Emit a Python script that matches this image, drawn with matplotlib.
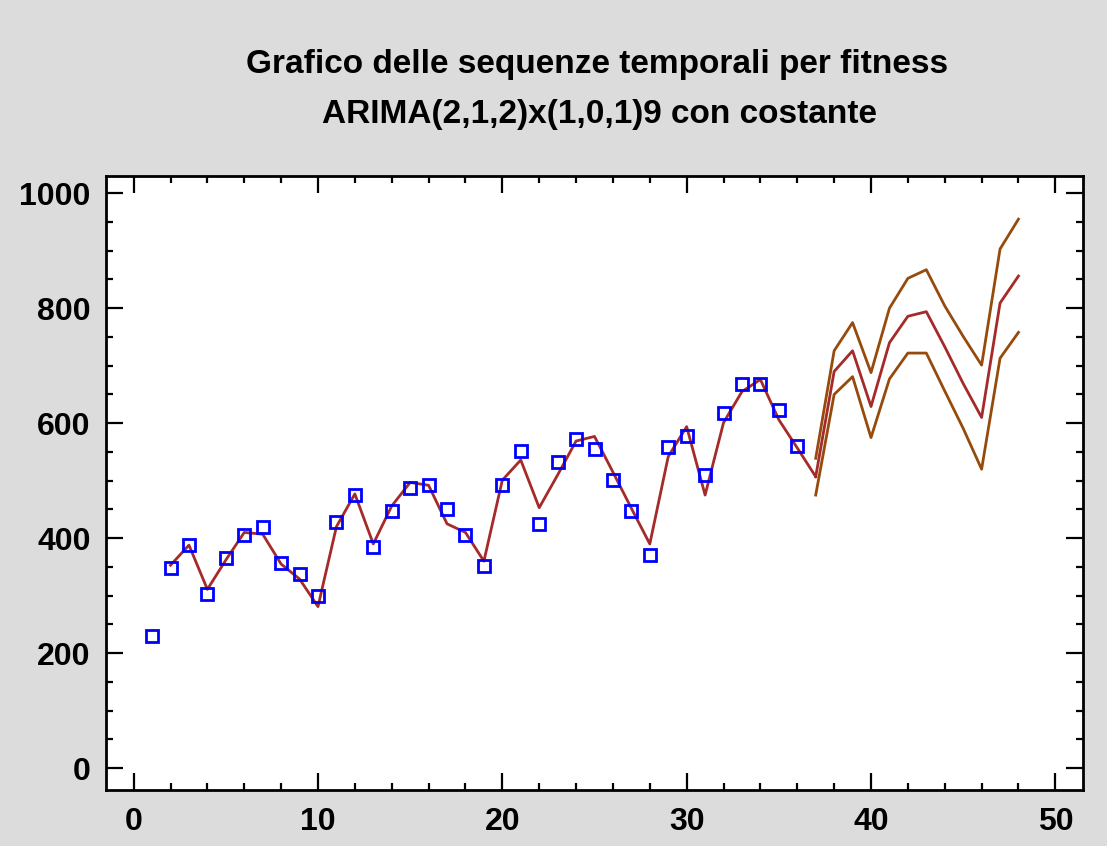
import matplotlib
matplotlib.use("Agg")
import matplotlib.pyplot as plt
from matplotlib.ticker import MultipleLocator

plt.rcParams['font.family'] = ['Liberation Sans', 'DejaVu Sans']

# observed data (t = 1..36)
obs_t = list(range(1, 37))
obs_y = [230, 348, 388, 303, 366, 406, 420, 357, 338, 299, 428, 475, 384, 447, 487, 492,
         451, 406, 352, 492, 551, 425, 533, 573, 555, 501, 447, 370, 559, 578, 510, 618,
         668, 668, 623, 561]

# fitted values (t = 2..37)
fit_t = list(range(2, 38))
fit_y = [353, 388, 311, 362, 410, 407, 355, 329, 281, 420, 477, 390, 456, 497, 492, 425,
         410, 360, 501, 536, 453, 510, 569, 577, 515, 452, 390, 542, 594, 475, 601, 655,
         676, 606, 557, 507]

# forecasts (t = 37..48)
fc_t = list(range(37, 49))
fc_y = [507, 690, 726, 629, 740, 786, 794, 733, 669, 610, 809, 856]
up_y = [539, 726, 775, 688, 800, 852, 867, 804, 751, 701, 903, 955]
lo_y = [475, 650, 681, 575, 677, 722, 722, 656, 591, 520, 713, 758]

title1 = "Grafico delle sequenze temporali per fitness"
title2 = "ARIMA(2,1,2)x(1,0,1)9 con costante"

fig = plt.figure(figsize=(11.07, 8.46), dpi=100, facecolor='#DCDCDC')
ax = fig.add_axes([106/1107, 1 - 790/846, (1083-106)/1107, (790-176)/846])
ax.set_facecolor('white')

fit_color = '#A52A2A'
lim_color = '#964B0C'

ax.plot(fit_t, fit_y, color=fit_color, lw=2.0, zorder=2)
ax.plot(fc_t, fc_y, color=fit_color, lw=2.0, zorder=2)
ax.plot(fc_t, up_y, color=lim_color, lw=2.0, zorder=2)
ax.plot(fc_t, lo_y, color=lim_color, lw=2.0, zorder=2)
ax.plot(obs_t, obs_y, linestyle='none', marker='s', markersize=8.5,
        markerfacecolor='none', markeredgecolor='#0000FF', markeredgewidth=2.0, zorder=3)

ax.set_xlim(-1.5, 51.5)
ax.set_ylim(-38, 1030)
ax.xaxis.set_major_locator(MultipleLocator(10))
ax.xaxis.set_minor_locator(MultipleLocator(2))
ax.yaxis.set_major_locator(MultipleLocator(200))
ax.yaxis.set_minor_locator(MultipleLocator(50))

ax.tick_params(which='both', direction='in', top=True, right=True, width=1.6, color='black')
ax.tick_params(which='major', length=12, labelsize=23)
ax.tick_params(which='minor', length=5)
ax.tick_params(axis='x', which='major', pad=12)
ax.tick_params(axis='y', which='major', pad=11)
for lab in ax.get_xticklabels() + ax.get_yticklabels():
    lab.set_fontweight('bold')
for sp in ax.spines.values():
    sp.set_linewidth(2.0)

fig.text(597/1107, 1 - 64/846, title1, ha='center', va='center', fontsize=24,
         fontweight='bold')
fig.text(599/1107, 1 - 114/846, title2, ha='center', va='center', fontsize=24,
         fontweight='bold')

fig.savefig('out.png', dpi=100, facecolor=fig.get_facecolor())
